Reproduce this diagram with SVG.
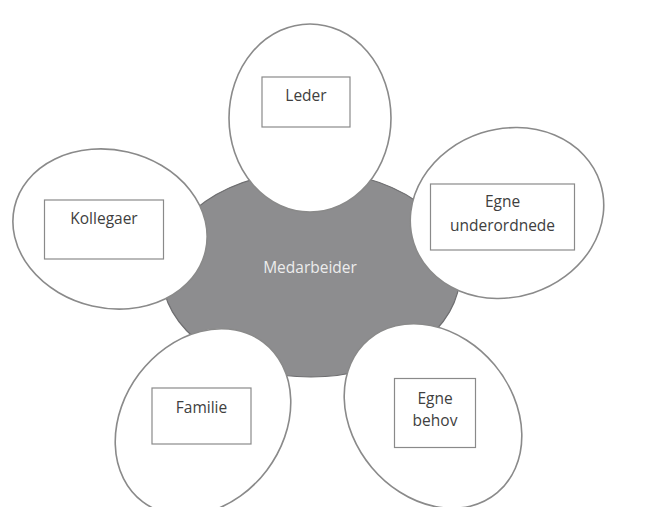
<svg xmlns="http://www.w3.org/2000/svg" width="654" height="507" viewBox="0 0 654 507">
  <style>
    .hub { fill: #8d8d8f; stroke: #6e6e70; stroke-width: 1.2; }
    .petal { fill: #ffffff; stroke: #8a8a8a; stroke-width: 1.6; }
    .box { fill: #ffffff; stroke: #8a8a8a; stroke-width: 1.2; }
    .lbl { font-family: "Open Sans", "Noto Sans", "Liberation Sans", sans-serif; font-size: 15.5px; fill: #404040; text-anchor: middle; }
    .hub-lbl { font-family: "Open Sans", "Noto Sans", "Liberation Sans", sans-serif; font-size: 15.5px; fill: #ececec; text-anchor: middle; }
  </style>
  <rect width="654" height="507" fill="#ffffff"/>

  <!-- central node -->
  <g id="medarbeider">
    <ellipse class="hub" cx="311" cy="274" rx="149" ry="103"/>
    <text class="hub-lbl" x="310" y="273">Medarbeider</text>
  </g>

  <!-- surrounding petals (no connectors: they overlap the hub) -->
  <g id="connectors"/>

  <g id="leder">
    <ellipse class="petal" cx="310" cy="118" rx="81" ry="94"/>
    <rect class="box" x="262" y="77" width="88" height="50"/>
    <text class="lbl" x="306" y="101">Leder</text>
  </g>

  <g id="egne-underordnede">
    <ellipse class="petal" cx="0" cy="0" rx="98" ry="84" transform="translate(507,213) rotate(-18)"/>
    <rect class="box" x="430.5" y="184" width="144" height="66"/>
    <text class="lbl" x="502.5" y="207">Egne</text>
    <text class="lbl" x="502.5" y="231">underordnede</text>
  </g>

  <g id="kollegaer">
    <ellipse class="petal" cx="0" cy="0" rx="98" ry="79" transform="translate(110,229) rotate(13)"/>
    <rect class="box" x="44.5" y="200" width="119" height="59"/>
    <text class="lbl" x="104" y="224">Kollegaer</text>
  </g>

  <g id="familie">
    <ellipse class="petal" cx="0" cy="0" rx="100" ry="80" transform="translate(203,422) rotate(-53)"/>
    <rect class="box" x="152" y="388" width="99" height="56"/>
    <text class="lbl" x="201.5" y="413">Familie</text>
  </g>

  <g id="egne-behov">
    <ellipse class="petal" cx="0" cy="0" rx="100" ry="80" transform="translate(433,416) rotate(50)"/>
    <rect class="box" x="394.5" y="378.5" width="81" height="69"/>
    <text class="lbl" x="435" y="404">Egne</text>
    <text class="lbl" x="435" y="426">behov</text>
  </g>
</svg>
